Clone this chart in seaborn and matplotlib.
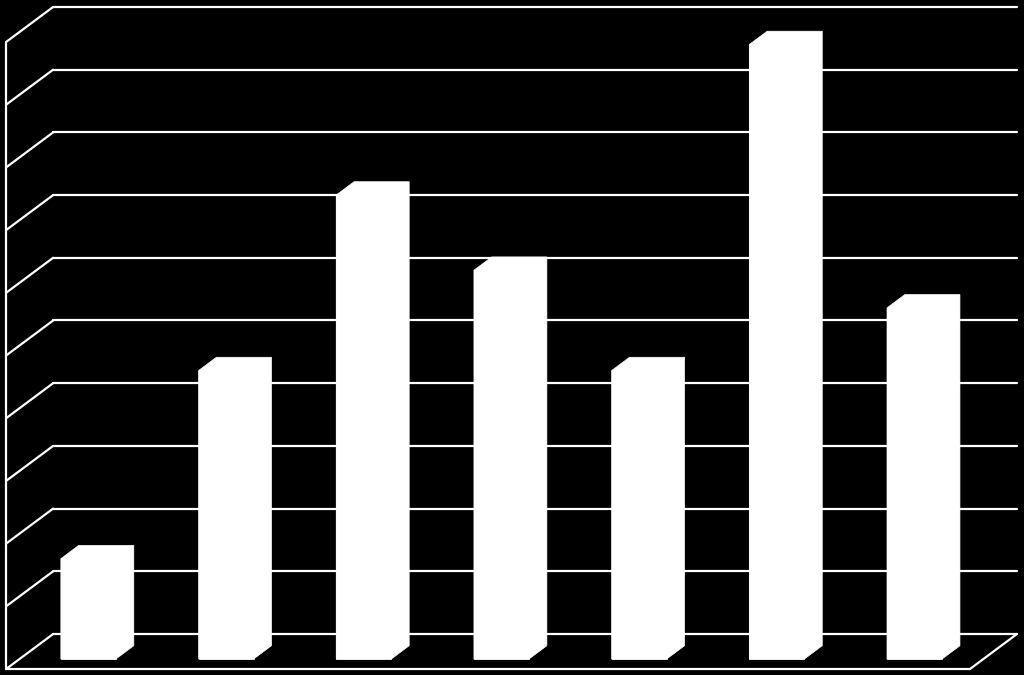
"""
3D-style white bar chart on black, drawn with seaborn + matplotlib patches.
"""
import matplotlib
matplotlib.use("Agg")
import matplotlib.pyplot as plt
from matplotlib.patches import Polygon
import seaborn as sns

# --- data (gridlines every 1 unit) ---
categories = ["1", "2", "3", "4", "5", "6", "7"]
values = [1.6, 4.6, 7.4, 6.2, 4.6, 9.8, 5.6]
grid_ticks = list(range(0, 11))

# --- perspective settings (data units per full depth) ---
DX = 47 / 137.7      # horizontal shift from front plane to back wall
DY = 35 / 62.7       # vertical shift from front plane to back wall
T_FRONT = 10 / 35    # depth of bar front faces
T_BACK = 0.666       # depth of bar back faces
BAR_W = 0.4
LINE = "white"


def proj(x, v, d):
    # map (category x, value v, depth d) into the axes' data coords
    return x + (d - T_FRONT) * DX, v + (d - T_FRONT) * DY


sns.set_theme(style="white")
fig = plt.figure(figsize=(10.24, 6.75), dpi=100, facecolor="black")
ax = fig.add_axes([0, 0, 1, 1])
ax.set_facecolor("black")

sns.barplot(x=categories, y=values, color="white", saturation=1,
            width=BAR_W, errorbar=None, ax=ax, zorder=3,
            edgecolor="white", linewidth=0.5)

# walls and gridlines
left, right = -0.5, len(categories) - 0.5
for v in grid_ticks:
    (x0, y0), (x1, y1) = proj(left, v, 1), proj(right, v, 1)
    ax.plot([x0, x1], [y0, y1], color=LINE, lw=1.6, zorder=1)
    (a0, b0), (a1, b1) = proj(left, v, 0), proj(left, v, 1)
    ax.plot([a0, a1], [b0, b1], color=LINE, lw=1.6, zorder=1)

(a0, b0), (a1, b1) = proj(left, 0, 0), proj(left, grid_ticks[-1], 0)
ax.plot([a0, a1], [b0, b1], color=LINE, lw=1.6, zorder=1)
(a0, b0), (a1, b1) = proj(left, 0, 0), proj(right, 0, 0)
ax.plot([a0, a1], [b0, b1], color=LINE, lw=1.6, zorder=1)
(a0, b0), (a1, b1) = proj(right, 0, 0), proj(right, 0, 1)
ax.plot([a0, a1], [b0, b1], color=LINE, lw=1.6, zorder=1)

# extend each bar into a solid block (front + top + side as one outline)
bdx = (T_BACK - T_FRONT) * DX
bdy = (T_BACK - T_FRONT) * DY
for p in list(ax.patches):
    x0 = p.get_x()
    x1 = x0 + p.get_width()
    h = p.get_height()
    block = [(x0, 0), (x0, h), (x0 + bdx, h + bdy), (x1 + bdx, h + bdy),
             (x1 + bdx, bdy), (x1, 0)]
    ax.add_patch(Polygon(block, closed=True, facecolor="white",
                         edgecolor="white", lw=0.5, zorder=3))

ax.set_xlim(-0.642, 6.795)
ax.set_ylim(-0.255, 10.51)
ax.axis("off")

fig.savefig("out.png", dpi=100, facecolor="black")
